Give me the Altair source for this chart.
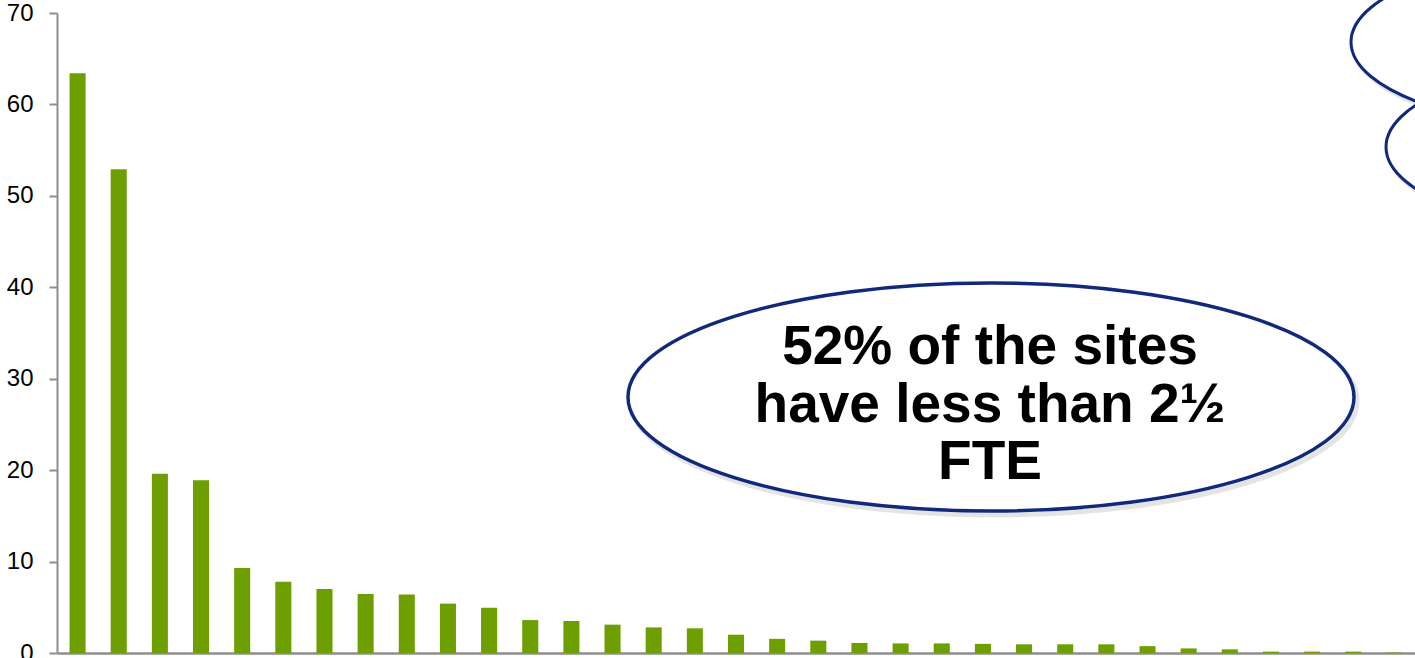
import altair as alt
import pandas as pd

# ---- data ----
sites = [f"S{i:02d}" for i in range(1, 34)]
fte = [63.4, 52.9, 19.6, 18.9, 9.3, 7.8, 7.0, 6.45, 6.4, 5.4, 4.95, 3.6, 3.5,
       3.1, 2.8, 2.7, 2.0, 1.55, 1.35, 1.1, 1.05, 1.05, 1.0, 0.95, 0.95, 0.95,
       0.75, 0.5, 0.4, 0.15, 0.15, 0.15, 0.05]
y_ticks = [0, 10, 20, 30, 40, 50, 60, 70]
callout_lines = ["52% of the sites", "have less than 2½", "FTE"]

df = pd.DataFrame({"site": sites, "fte": fte})
one = pd.DataFrame({"a": [0]})

W, H = 1358, 640
FONT = "Liberation Sans"
AXIS_GREY = "#8e8e8e"
NAVY = "#11297a"


def ellipse_path(ratio):
    k = 0.5523
    r = ratio
    kr = k * r
    return (f"M -1 0 C -1 {-kr:.4f} {-k} {-r:.4f} 0 {-r:.4f} "
            f"C {k} {-r:.4f} 1 {-kr:.4f} 1 0 "
            f"C 1 {kr:.4f} {k} {r:.4f} 0 {r:.4f} "
            f"C {-k} {r:.4f} -1 {kr:.4f} -1 0 Z")


bars = alt.Chart(df).mark_bar(color="#6d9f00").encode(
    x=alt.X("site:N", sort=None,
            scale=alt.Scale(paddingInner=0.61, paddingOuter=0.305),
            axis=alt.Axis(labels=False, ticks=False, title=None, grid=False,
                          domainColor=AXIS_GREY, domainWidth=2.5)),
    y=alt.Y("fte:Q", scale=alt.Scale(domain=[0, 70], nice=False),
            axis=alt.Axis(values=y_ticks, title=None, grid=False,
                          domainColor=AXIS_GREY, domainWidth=2,
                          tickColor=AXIS_GREY, tickWidth=2, tickSize=8,
                          labelFont=FONT, labelFontSize=24, labelColor="black",
                          labelPadding=16)),
)


def ellipse(cx, cy, width, height, color, sw, fill=None, opacity=1.0):
    kw = dict(shape=ellipse_path(height / width), size=width * width,
              stroke=color, strokeWidth=sw, opacity=opacity, filled=False)
    if fill:
        kw.update(filled=True, fill=fill)
    return alt.Chart(one).mark_point(**kw).encode(
        x=alt.value(cx), y=alt.value(cy))


# main callout (pixel coordinates relative to plot area)
main_shadow = ellipse(937, 388, 726, 228, "#000000", 5, opacity=0.10)
main_ell = ellipse(934, 384, 726, 228, NAVY, 3.5, fill="white")
small_shadow1 = ellipse(1547, 32, 500, 176, "#000000", 5, opacity=0.10)
small1 = ellipse(1544, 29, 500, 176, NAVY, 3, fill="white")
small_shadow2 = ellipse(1582, 137, 500, 176, "#000000", 5, opacity=0.10)
small2 = ellipse(1579, 134, 500, 176, NAVY, 3, fill="white")

text = alt.Chart(one).mark_text(
    text=callout_lines, font=FONT, fontSize=55, fontWeight="bold",
    color="black", align="center", baseline="alphabetic", lineHeight=57.5,
).encode(x=alt.value(933), y=alt.value(351))

chart = alt.layer(
    bars, main_shadow, main_ell, text,
    small_shadow1, small1, small_shadow2, small2,
).properties(
    width=W, height=H,
    background="white",
    autosize=alt.AutoSizeParams(type="none"),
    padding={"left": 57, "top": 13, "right": 0, "bottom": 5},
).configure_view(
    strokeWidth=0, stroke=None
).configure_axis(grid=False)

chart.save("out.html", embed_options={"renderer": "svg", "actions": False})
